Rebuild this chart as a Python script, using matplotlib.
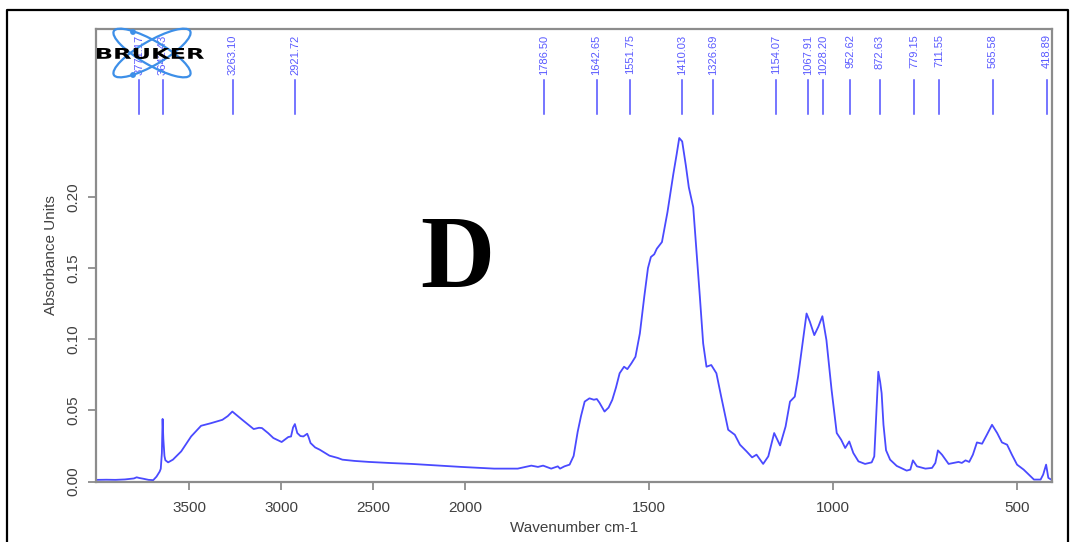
import numpy as np
import matplotlib
matplotlib.use('Agg')
import matplotlib.pyplot as plt
from matplotlib.patches import Ellipse, Circle, PathPatch
from matplotlib.textpath import TextPath
from matplotlib.font_manager import FontProperties
from matplotlib.transforms import Affine2D, blended_transform_factory

plt.rcParams['font.family'] = ['Liberation Sans', 'DejaVu Sans']

#spectrum (wavenumber cm-1, absorbance)
wavenumber = [4000, 3950, 3900, 3849, 3800, 3785, 3770, 3749, 3720, 3695,
              3677, 3660, 3654, 3648, 3644, 3640, 3634, 3629, 3614, 3588,
              3543, 3489, 3435, 3382, 3319, 3290, 3265, 3240, 3211, 3149,
              3120, 3104, 3070, 3042, 2997, 2961, 2946, 2935, 2925, 2912,
              2895, 2879, 2858, 2850, 2840, 2815, 2790, 2737, 2692, 2667,
              2600, 2522, 2400, 2290, 2150, 2022, 1921, 1857, 1820, 1802,
              1788, 1766, 1748, 1742, 1730, 1716, 1705, 1694, 1685, 1675,
              1662, 1650, 1642, 1635, 1621, 1610, 1600, 1590, 1580, 1568,
              1559, 1548, 1537, 1525, 1513, 1503, 1495, 1486, 1479, 1465,
              1450, 1434, 1425, 1418, 1410, 1400, 1392, 1380, 1372, 1362,
              1353, 1344, 1331, 1317, 1304, 1285, 1267, 1253, 1235, 1220,
              1208, 1190, 1176, 1160, 1144, 1129, 1117, 1104, 1095, 1084,
              1072, 1063, 1051, 1040, 1029, 1018, 1004, 990, 978, 967,
              956, 945, 931, 913, 895, 888, 882, 877, 872, 868,
              863, 856, 845, 827, 800, 790, 783, 772, 749, 731,
              722, 715, 704, 686, 659, 650, 640, 630, 620, 609,
              595, 582, 568, 554, 541, 527, 514, 500, 482, 468,
              454, 436, 429, 421, 415, 408]
absorbance = [0.0012, 0.0013, 0.0012, 0.0015, 0.0022, 0.0030, 0.0025, 0.0020, 0.0012, 0.0010,
              0.0035, 0.0070, 0.0090, 0.0200, 0.0440, 0.0300, 0.0180, 0.0150, 0.0135, 0.0154,
              0.0212, 0.0317, 0.0392, 0.0410, 0.0434, 0.0460, 0.0492, 0.0465, 0.0434, 0.0369,
              0.0378, 0.0376, 0.0340, 0.0306, 0.0278, 0.0313, 0.0317, 0.0380, 0.0404, 0.0341,
              0.0320, 0.0317, 0.0336, 0.0310, 0.0271, 0.0240, 0.0224, 0.0182, 0.0166, 0.0154,
              0.0145, 0.0138, 0.0130, 0.0124, 0.0113, 0.0103, 0.0091, 0.0091, 0.0112, 0.0103,
              0.0112, 0.0091, 0.0107, 0.0091, 0.0107, 0.0119, 0.0180, 0.0350, 0.0460, 0.0562,
              0.0585, 0.0575, 0.0580, 0.0555, 0.0492, 0.0520, 0.0574, 0.0660, 0.0761, 0.0807,
              0.0790, 0.0831, 0.0877, 0.1041, 0.1300, 0.1500, 0.1578, 0.1597, 0.1636, 0.1683,
              0.1893, 0.2162, 0.2300, 0.2414, 0.2390, 0.2220, 0.2068, 0.1928, 0.1648, 0.1300,
              0.0971, 0.0807, 0.0819, 0.0761, 0.0597, 0.0364, 0.0329, 0.0259, 0.0212, 0.0170,
              0.0189, 0.0124, 0.0177, 0.0341, 0.0254, 0.0387, 0.0562, 0.0597, 0.0737, 0.0947,
              0.1181, 0.1123, 0.1029, 0.1088, 0.1162, 0.0994, 0.0644, 0.0341, 0.0294, 0.0236,
              0.0282, 0.0201, 0.0142, 0.0124, 0.0135, 0.0177, 0.0500, 0.0772, 0.0700, 0.0621,
              0.0400, 0.0220, 0.0154, 0.0110, 0.0077, 0.0084, 0.0149, 0.0107, 0.0091, 0.0096,
              0.0131, 0.0219, 0.0189, 0.0124, 0.0138, 0.0131, 0.0149, 0.0138, 0.0189, 0.0275,
              0.0266, 0.0329, 0.0399, 0.0341, 0.0275, 0.0259, 0.0189, 0.0119, 0.0084, 0.0049,
              0.0014, 0.0014, 0.0049, 0.0119, 0.0026, 0.0015]

#picked peaks
peaks = [3771.17, 3642.43, 3263.10, 2921.72, 1786.50, 1642.65, 1551.75, 1410.03,
         1326.69, 1154.07, 1067.91, 1028.20, 952.62, 872.63, 779.15, 711.55,
         565.58, 418.89]

xticks = [3500, 3000, 2500, 2000, 1500, 1000, 500]
yticks = [0.00, 0.05, 0.10, 0.15, 0.20]

W, H = 1076, 542
fig = plt.figure(figsize=(W/100, H/100), dpi=100)
ax = fig.add_axes([96/W, 1-482/H, (1052-96)/W, (482-29)/H])

#x axis compressed 2:1 above 2000 cm-1
def fwd(w):
    w = np.asarray(w, dtype=float)
    return np.where(w > 2000, 2000 + (w - 2000)/2, w)

def inv(t):
    t = np.asarray(t, dtype=float)
    return np.where(t > 2000, 2000 + (t - 2000)*2, t)

ax.set_xscale('function', functions=(fwd, inv))
ax.plot(wavenumber, absorbance, color='#4a4aff', lw=1.3)
ax.set_xlim(4006, 405)
ax.set_ylim(-0.0003, 0.318)

grey = '#8c8c8c'
for s in ax.spines.values():
    s.set_color(grey)
    s.set_linewidth(1.6)
ax.set_xticks(xticks)
ax.set_xticklabels([str(t) for t in xticks])
ax.set_yticks(yticks)
ax.set_yticklabels(['%.2f' % t for t in yticks], rotation=90, va='center')
ax.tick_params(direction='out', length=6, width=1.3, color=grey,
               labelsize=11, labelcolor='#404040', pad=4)
ax.tick_params(axis='x', pad=8)
ax.tick_params(axis='y', pad=5)
ax.set_xlabel('Wavenumber cm-1', fontsize=11, color='#404040', labelpad=4)
ax.set_ylabel('Absorbance Units', fontsize=11, color='#404040', labelpad=6)

#peak markers
tr = blended_transform_factory(ax.transData, ax.transAxes)
for p in peaks:
    ax.plot([p, p], [0.812, 0.887], transform=tr, color='#5050ff', lw=1.1)
    ax.text(p, 0.988, '%.2f' % p, transform=tr, rotation=90, ha='center', va='top',
            fontsize=8, color='#5a5aff')

ax.text(457, 262, 'D', transform=Affine2D().scale(1/W, -1/H).translate(0, 1) + fig.transFigure,
        ha='center', va='center', fontsize=74, fontweight='bold', family='Liberation Serif')

#logo, drawn in pixel coordinates (origin top left)
px = Affine2D().scale(1/W, -1/H).translate(0, 1) + fig.transFigure
for ang in (30, -30):
    fig.add_artist(Ellipse((152, 53), 88, 24, angle=ang, fill=False, ec='#3d8fe8',
                           lw=1.6, transform=px))
for cy in (32, 75):
    fig.add_artist(Circle((133, cy), 2.2, color='#3d8fe8', transform=px))
tp = TextPath((0, 0), 'BRUKER', size=10, prop=FontProperties(family='DejaVu Sans', weight='bold'))
bb = tp.get_extents()
fit = Affine2D().translate(-bb.x0, -bb.y0).scale(107/bb.width, -11/bb.height).translate(97, 59)
fig.add_artist(PathPatch(tp, fc='black', ec='none', transform=fit + px))

#outer frame
fig.add_artist(plt.Line2D([7, 7, 1068, 1068], [542, 10, 10, 542], color='black', lw=1.6,
                          transform=px))

fig.savefig('out.png', dpi=100)
